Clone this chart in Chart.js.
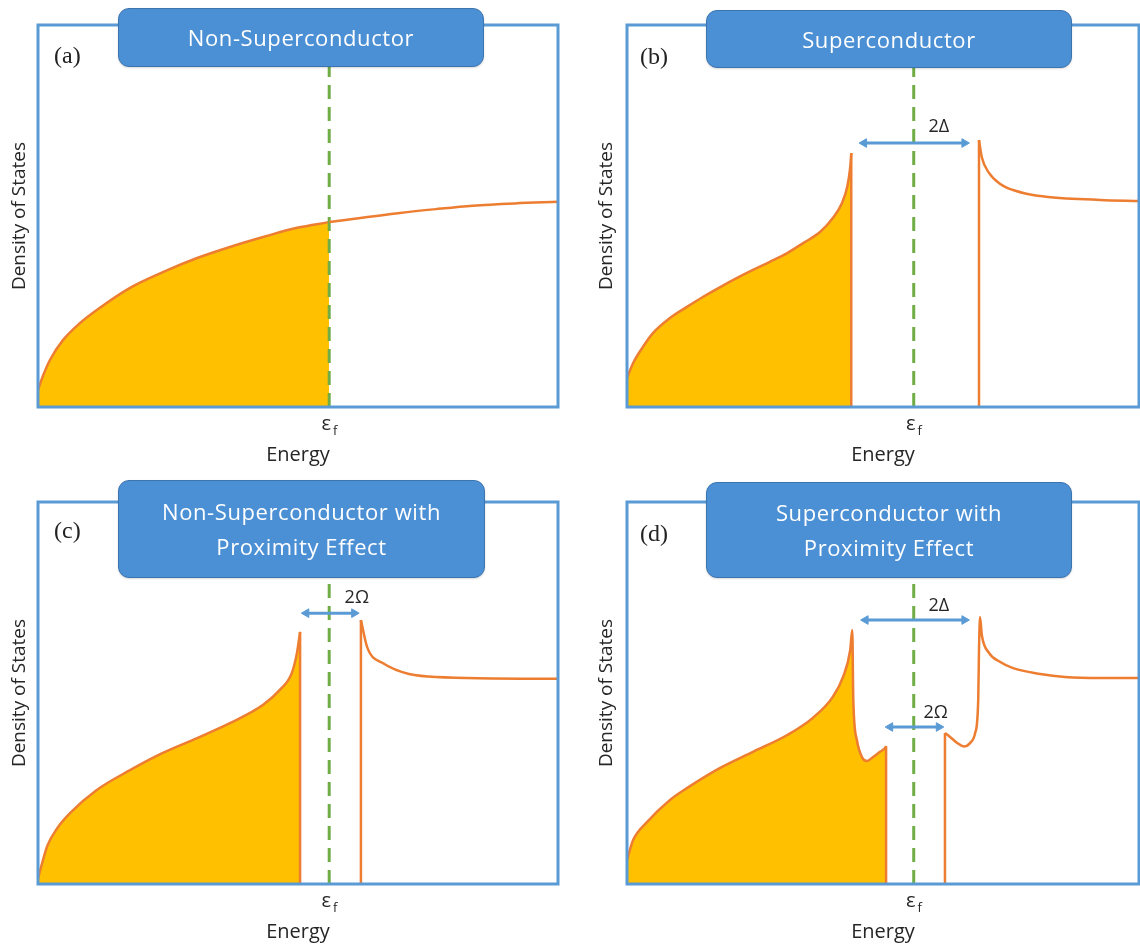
<!DOCTYPE html>
<html>
<head>
<meta charset="utf-8">
<script src="https://cdn.jsdelivr.net/npm/chart.js@4.4.1/dist/chart.umd.min.js"></script>
<style>
  html, body { margin: 0; padding: 0; background: #ffffff; overflow: hidden; }
  #wrap { position: relative; width: 1140px; height: 947px; overflow: hidden; background: #fff; }
  canvas { position: absolute; display: block; }
  .tbox {
    position: absolute; box-sizing: border-box;
    background: #4B8FD4; border: 1.5px solid #3C74B0; border-radius: 11px;
    color: #fff; font-family: "Open Sans", sans-serif; font-size: 22px; letter-spacing: 0.6px;
    display: flex; align-items: center; justify-content: center; text-align: center;
    line-height: 35px; box-shadow: 0 1px 2px rgba(0,0,0,0.15);
  }
</style>
</head>
<body>
<div id="wrap">
  <canvas id="ca" width="570" height="470" style="left:0;top:0;width:570px;height:470px;"></canvas>
  <canvas id="cb" width="555" height="470" style="left:585px;top:0;width:555px;height:470px;"></canvas>
  <canvas id="cc" width="570" height="477" style="left:0;top:470px;width:570px;height:477px;"></canvas>
  <canvas id="cd" width="555" height="477" style="left:585px;top:470px;width:555px;height:477px;"></canvas>
  <div class="tbox" style="left:118px;top:8px;width:366px;height:59px;">Non-Superconductor</div>
  <div class="tbox" style="left:706px;top:10px;width:366px;height:58px;">Superconductor</div>
  <div class="tbox" style="left:118px;top:480px;width:367px;height:98px;">Non-Superconductor with<br>Proximity Effect</div>
  <div class="tbox" style="left:706px;top:482px;width:366px;height:96px;">Superconductor with<br>Proximity Effect</div>
</div>
<script>
// ---------- DATA (energy in arbitrary units, Fermi level at 0; density of states 0-100) ----------
const E_MIN = -56, E_MAX = 44, DOS_MAX = 100, FERMI = 0;
const X_TITLE = 'Energy';
const Y_TITLE = 'Density of States';
const FERMI_LABEL = ['ε', 'f'];

// (a) Non-Superconductor
const A_OCC_E   = [-56, -55.0, -53.7, -51.2, -47.9, -44.7, -38.3, -32.0, -25.4, -19.1, -12.7, -6.2, 0];
const A_OCC_DOS = [4.5, 8.3, 12.3, 17.5, 22.0, 25.4, 31.2, 35.3, 39.0, 41.9, 44.5, 46.9, 48.4];
const A_EMP_E   = [0, 13.6, 20.5, 27.6, 35.7, 44];
const A_EMP_DOS = [48.4, 50.8, 51.8, 52.7, 53.3, 53.7];

// (b) Superconductor
const B_OCC_E   = [-56, -54.8, -52.9, -50.9, -47.6, -44.3, -41.2, -37.8, -34.5, -31.4, -28.1, -24.7, -21.6, -18.3, -15.8, -14.0, -13.0, -12.4, -12.2];
const B_OCC_DOS = [7.6, 11.5, 15.7, 19.4, 23.3, 26.2, 28.8, 31.4, 33.8, 35.9, 38.0, 40.3, 42.9, 45.8, 49.5, 53.4, 57.6, 62.8, 66.5];
const B_EMP_E   = [12.75, 13.3, 14.7, 16.9, 19.4, 22.5, 26.2, 36.4, 44];
const B_EMP_DOS = [69.9, 65.4, 61.3, 58.4, 56.8, 55.7, 55.0, 54.2, 53.9];
const B_GAP_E   = [-9.7, 9.9];     // 2Δ arrow
const B_GAP_DOS = [69.1, 69.1];
const B_GAP_LBL = ['2Δ', 4.9, 73.3];

// (c) Non-Superconductor with Proximity Effect
const C_OCC_E   = [-56, -55.2, -54.2, -52.3, -49.8, -44.7, -38.3, -32.0, -25.4, -19.1, -12.7, -9.5, -7.2, -6.2, -5.6];
const C_OCC_DOS = [1.5, 5.5, 10.0, 14.6, 18.6, 24.6, 29.8, 34.3, 38.2, 42.1, 46.9, 50.8, 55.2, 60.5, 66.0];
const C_EMP_E   = [6.1, 7.3, 10.2, 20.5, 44];
const C_EMP_DOS = [69.1, 62.0, 57.9, 54.2, 53.7];
const C_GAP_E   = [-4.4, 4.8];     // 2Ω arrow
const C_GAP_DOS = [70.9, 70.9];
const C_GAP_LBL = ['2Ω', 5.3, 74.9];

// (d) Superconductor with Proximity Effect
const D_OCC_E   = [-56, -54.8, -52.1, -47.6, -44.3, -37.8, -31.4, -24.7, -19.7, -15.8, -13.8, -12.4, -12.0, -11.8, -11.1, -10.1, -9.1, -8.0, -6.6, -5.6, -5.4];
const D_OCC_DOS = [6.3, 11.5, 16.2, 22.0, 25.1, 30.4, 34.6, 39.0, 43.5, 49.0, 54.2, 61.3, 66.5, 48.2, 37.7, 33.2, 32.2, 33.2, 34.6, 35.6, 36.1];
const D_EMP_E   = [6.1, 7.1, 8.5, 9.8, 11.0, 12.0, 12.6, 12.75, 12.95, 13.3, 14.7, 16.9, 19.4, 24.7, 29.5, 36.4, 44];
const D_EMP_DOS = [39.5, 38.5, 36.9, 36.0, 36.9, 39.5, 48.2, 61.3, 69.9, 65.2, 60.5, 58.1, 56.5, 55.0, 54.2, 53.9, 53.9];
const D_GAP1_E   = [-9.4, 9.9];    // 2Δ arrow
const D_GAP1_DOS = [69.1, 69.1];
const D_GAP1_LBL = ['2Δ', 4.9, 72.8];
const D_GAP2_E   = [-4.6, 4.9];    // 2Ω arrow
const D_GAP2_DOS = [41.1, 41.1];
const D_GAP2_LBL = ['2Ω', 4.3, 44.8];

// ---------- STYLES ----------
const ORANGE = '#ED7D31', GOLD = '#FFC000', GREEN = '#70AD47', BLUE = '#5B9BD5';
const SANS = '"Open Sans", "Noto Sans", sans-serif';

const pts = (xs, ys) => xs.map((x, i) => ({ x: x, y: ys[i] }));
const last = a => a[a.length - 1];

function occSet(es, ds) {
  return { data: pts(es, ds), borderColor: ORANGE, borderWidth: 2.5, backgroundColor: GOLD, fill: 'origin',
    pointRadius: 0, cubicInterpolationMode: 'monotone', borderJoinStyle: 'round', order: 4 };
}
function empSet(es, ds) {
  return { data: pts(es, ds), borderColor: ORANGE, borderWidth: 2.5, fill: false,
    pointRadius: 0, cubicInterpolationMode: 'monotone', borderJoinStyle: 'round', order: 1 };
}
// vertical band edge: from zero up to the first/last value of a curve
function edgeSet(e, top) {
  return { data: [{ x: e, y: 0 }, { x: e, y: top }], borderColor: ORANGE, borderWidth: 2.5, fill: false,
    pointRadius: 0, tension: 0, order: 1 };
}
function fermiSet() {
  return { data: [{ x: FERMI, y: 0 }, { x: FERMI, y: DOS_MAX }], borderColor: GREEN, borderWidth: 3,
    borderDash: [14, 8], pointRadius: 0, fill: false, tension: 0, order: 2 };
}
function arrowSet(es, ds) {
  return { data: pts(es, ds), borderColor: BLUE, borderWidth: 3, fill: false, order: 0, tension: 0,
    pointStyle: 'triangle', pointRadius: 5, pointRotation: [-90, 90],
    pointBackgroundColor: BLUE, pointBorderColor: BLUE, pointBorderWidth: 1 };
}

const framePlugin = {
  id: 'frameAndLabels',
  afterDatasetsDraw(chart, args, opts) {
    const { ctx, chartArea: ca } = chart;
    const xs = chart.scales.x, ys = chart.scales.y;
    ctx.save();
    ctx.strokeStyle = BLUE; ctx.lineWidth = 3;
    ctx.strokeRect(ca.left, ca.top, ca.right - ca.left, ca.bottom - ca.top);
    // Fermi level label
    const fx = xs.getPixelForValue(FERMI);
    ctx.fillStyle = '#262626'; ctx.textBaseline = 'middle'; ctx.textAlign = 'center';
    ctx.font = '20px ' + SANS;
    ctx.fillText(FERMI_LABEL[0], fx - 3, ca.bottom + 17);
    ctx.font = '13px ' + SANS;
    ctx.fillText(FERMI_LABEL[1], fx + 6, ca.bottom + 24);
    // panel letter
    ctx.font = '24px "Liberation Serif", serif'; ctx.textAlign = 'left'; ctx.fillStyle = '#222';
    ctx.fillText(opts.letter, ca.left + opts.letterDx, ca.top + opts.letterDy);
    // gap labels
    ctx.font = '18px ' + SANS; ctx.textAlign = 'center'; ctx.fillStyle = '#262626';
    (opts.labels || []).forEach(l => {
      ctx.fillText(l[0], xs.getPixelForValue(l[1]), ys.getPixelForValue(l[2]));
    });
    ctx.restore();
  }
};

function makeChart(id, datasets, cfg) {
  return new Chart(document.getElementById(id), {
    type: 'line',
    data: { datasets: datasets },
    options: {
      responsive: false, animation: false, devicePixelRatio: 1,
      layout: { autoPadding: false, padding: { left: 0, top: cfg.padTop, right: cfg.padRight, bottom: 0 } },
      plugins: { legend: { display: false }, tooltip: { enabled: false },
        frameAndLabels: { letter: cfg.letter, letterDx: cfg.letterDx, letterDy: cfg.letterDy, labels: cfg.labels } },
      scales: {
        x: { type: 'linear', min: E_MIN, max: E_MAX,
          grid: { display: false }, border: { display: false }, ticks: { display: false },
          title: { display: true, text: X_TITLE, color: '#262626', font: { family: SANS, size: 20 }, padding: { top: 0, bottom: 3 } },
          afterFit: s => { s.height = cfg.xH; } },
        y: { min: 0, max: DOS_MAX,
          grid: { display: false }, border: { display: false }, ticks: { display: false },
          title: { display: true, text: Y_TITLE, color: '#262626', font: { family: SANS, size: 19 }, padding: { top: cfg.yTitlePad, bottom: 0 } },
          afterFit: s => { s.width = cfg.yW; } }
      }
    },
    plugins: [framePlugin]
  });
}

makeChart('ca', [occSet(A_OCC_E, A_OCC_DOS), empSet(A_EMP_E, A_EMP_DOS), fermiSet()],
  { padTop: 25, padRight: 12, xH: 63, yW: 38, yTitlePad: 8, letter: '(a)', letterDx: 16, letterDy: 32, labels: [] });

makeChart('cb', [occSet(B_OCC_E, B_OCC_DOS), edgeSet(last(B_OCC_E), last(B_OCC_DOS)),
    empSet(B_EMP_E, B_EMP_DOS), edgeSet(B_EMP_E[0], B_EMP_DOS[0]), fermiSet(), arrowSet(B_GAP_E, B_GAP_DOS)],
  { padTop: 25, padRight: 1, xH: 63, yW: 42, yTitlePad: 10, letter: '(b)', letterDx: 13, letterDy: 33, labels: [B_GAP_LBL] });

makeChart('cc', [occSet(C_OCC_E, C_OCC_DOS), edgeSet(last(C_OCC_E), last(C_OCC_DOS)),
    empSet(C_EMP_E, C_EMP_DOS), edgeSet(C_EMP_E[0], C_EMP_DOS[0]), fermiSet(), arrowSet(C_GAP_E, C_GAP_DOS)],
  { padTop: 32, padRight: 12, xH: 63, yW: 38, yTitlePad: 8, letter: '(c)', letterDx: 16, letterDy: 30, labels: [C_GAP_LBL] });

makeChart('cd', [occSet(D_OCC_E, D_OCC_DOS), edgeSet(last(D_OCC_E), last(D_OCC_DOS)),
    empSet(D_EMP_E, D_EMP_DOS), edgeSet(D_EMP_E[0], D_EMP_DOS[0]),
    fermiSet(), arrowSet(D_GAP1_E, D_GAP1_DOS), arrowSet(D_GAP2_E, D_GAP2_DOS)],
  { padTop: 32, padRight: 1, xH: 63, yW: 42, yTitlePad: 10, letter: '(d)', letterDx: 13, letterDy: 33, labels: [D_GAP1_LBL, D_GAP2_LBL] });
</script>
</body>
</html>
